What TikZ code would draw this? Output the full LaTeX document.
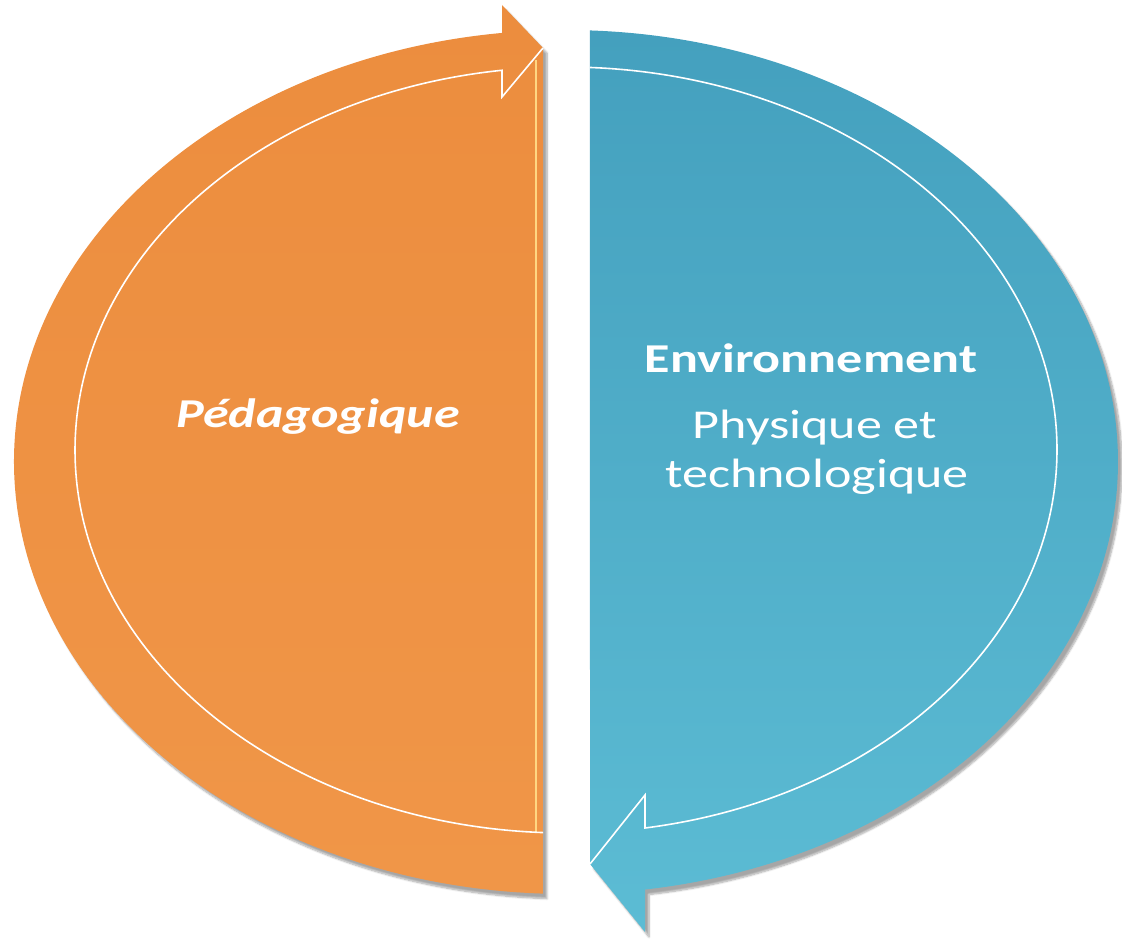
\documentclass[tikz,border=0pt]{standalone}
\usepackage{fontspec}
\setmainfont{Carlito}
\usetikzlibrary{shadows.blur}
\definecolor{orA}{RGB}{236,141,62}
\definecolor{orB}{RGB}{240,150,72}
\definecolor{blA}{RGB}{68,160,190}
\definecolor{blB}{RGB}{92,188,212}
\definecolor{hiY}{RGB}{255,214,130}
\tikzset{
  inline/.style={draw=white,line width=1.6pt,line join=miter},
  lbl/.style={text=white,anchor=base,inner sep=0pt},
  shadowed/.style={blur shadow={shadow xshift=4pt,shadow yshift=-5pt,shadow blur steps=8,shadow opacity=35}}
}
\begin{document}
\begin{tikzpicture}[x=1pt,y=-1pt]
\useasboundingbox (0,0) rectangle (1122,950);
% orange arrow (left)
\shade[shadowed,top color=orA,bottom color=orB]
  (543,48) -- (502,5) -- ([shift={(566,462)}]263.34:552 and 432)
  arc[start angle=263.34,end angle=92.39,x radius=552,y radius=432] -- cycle;
\draw[hiY,line width=2.5pt] (536,60) -- (536,832);
\draw[inline] ([shift={(566,450)}]92.68:491 and 383)
  arc[start angle=92.68,end angle=262.51,x radius=491,y radius=383]
  -- (502,97) -- (543,48);
% blue arrow (right)
\shade[shadowed,top color=blA,bottom color=blB]
  ([shift={(566,462)}]272.49:552 and 432)
  arc[start angle=272.49,end angle=441.77,x radius=552,y radius=432]
  -- (645,932) -- (590,864) -- cycle;
\draw[inline] ([shift={(566,450)}]272.8:491 and 383)
  arc[start angle=272.8,end angle=440.74,x radius=491,y radius=383]
  -- (645,795) -- (590,864);
% labels
\node[lbl] (ped) at (318,427) {\scalebox{1.27}[1]{\fontsize{41}{41}\selectfont\bfseries\itshape Pédagogique}};
\node[lbl] (env) at (811,372) {\scalebox{1.27}[1]{\fontsize{41}{41}\selectfont\bfseries Environnement}};
\node[lbl] (phy) at (815,438) {\scalebox{1.27}[1]{\fontsize{41}{41}\selectfont Physique et}};
\node[lbl] (tec) at (817,487) {\scalebox{1.27}[1]{\fontsize{41}{41}\selectfont technologique}};
\end{tikzpicture}
\end{document}
